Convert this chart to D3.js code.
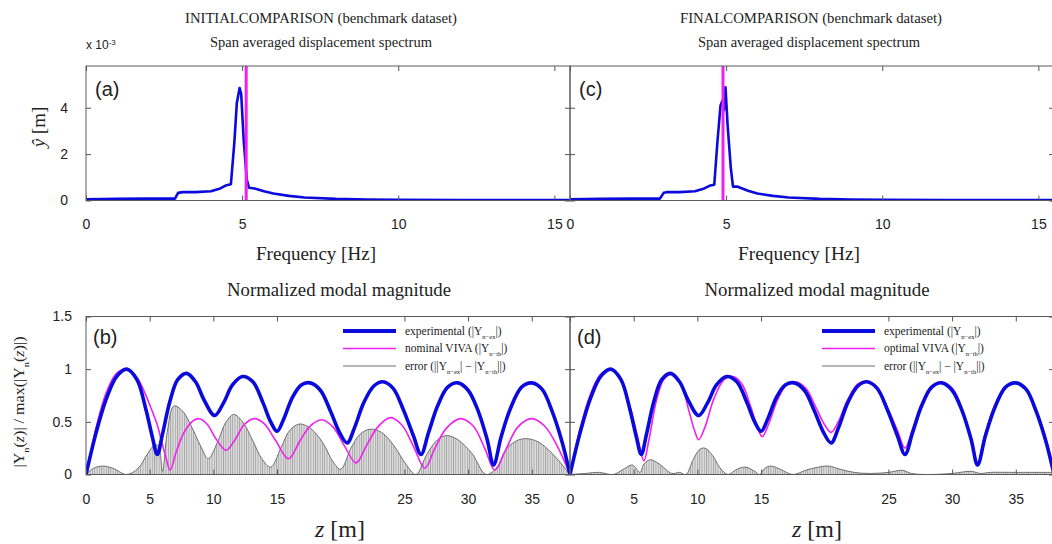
<!DOCTYPE html>
<html>
<head>
<meta charset="utf-8">
<script src="https://cdn.jsdelivr.net/npm/d3@7"></script>
<style>
    body { margin: 0; background: #fff; }
    text { fill: #222; }
    .serif { font-family: "Liberation Serif", "Times New Roman", Times, serif; }
    .sans { font-family: "Liberation Sans", Arial, sans-serif; }
</style>
</head>
<body>
<div id="chartArea"></div>
<script>
// Ticks
const freqTicks = [0, 5, 10, 15];
const specTicks = [0, 2, 4];
const zTicks = [0, 5, 10, 15, 25, 30, 35];
const magTicks = [0, 0.5, 1, 1.5];

// VIVA predicted frequency (vertical lines in (a) and (c)), Hz
const vivaFreq = [5.13, 4.9];

// Span averaged displacement spectrum [Hz, x10^-3 m]
const specInitial = [[0, 0.05], [1, 0.07], [2, 0.08], [2.85, 0.08], [2.95, 0.33], [3.1, 0.36], [3.5, 0.36], [4.0, 0.4], [4.3, 0.52], [4.5, 0.66], [4.64, 0.7], [4.75, 2.5], [4.83, 4.2], [4.92, 4.85], [4.97, 4.6], [5.05, 2.6], [5.15, 0.9], [5.22, 0.55], [5.4, 0.52], [5.7, 0.4], [6, 0.3], [6.5, 0.2], [7, 0.13], [8, 0.07], [9, 0.04], [10, 0.03], [12, 0.02], [15.5, 0.02]];
const specFinal = [[0, 0.05], [1, 0.07], [2, 0.08], [2.88, 0.08], [3.0, 0.33], [3.1, 0.36], [3.5, 0.36], [4.0, 0.4], [4.3, 0.52], [4.5, 0.65], [4.62, 0.68], [4.72, 2.5], [4.82, 4.1], [4.88, 4.3], [4.93, 3.9], [4.98, 4.88], [5.05, 3.2], [5.15, 1.4], [5.22, 0.6], [5.35, 0.6], [5.7, 0.42], [6, 0.3], [6.5, 0.2], [7, 0.13], [8, 0.07], [9, 0.04], [10, 0.03], [12, 0.02], [15.5, 0.02]];

// Normalized modal magnitude [z m, value]
const experimental = [[0, 0], [0.8, 0.4], [1.6, 0.72], [2.4, 0.93], [3.2, 1.0], [4.0, 0.9], [4.7, 0.62], [5.2, 0.36], [5.6, 0.19], [6.0, 0.38], [6.6, 0.7], [7.2, 0.9], [7.9, 0.96], [8.6, 0.88], [9.3, 0.7], [10.1, 0.56], [10.8, 0.68], [11.5, 0.85], [12.3, 0.93], [13.1, 0.88], [13.9, 0.68], [14.5, 0.5], [15.0, 0.41], [15.5, 0.52], [16.2, 0.73], [16.9, 0.85], [17.6, 0.87], [18.4, 0.8], [19.2, 0.6], [19.9, 0.4], [20.5, 0.3], [21.1, 0.45], [21.8, 0.68], [22.6, 0.84], [23.3, 0.88], [24.1, 0.82], [24.9, 0.62], [25.7, 0.37], [26.3, 0.19], [26.9, 0.4], [27.6, 0.65], [28.4, 0.83], [29.2, 0.87], [30.0, 0.8], [30.8, 0.6], [31.5, 0.33], [32.0, 0.09], [32.6, 0.36], [33.3, 0.62], [34.2, 0.83], [35.0, 0.87], [35.8, 0.81], [36.6, 0.6], [37.4, 0.3], [38, 0]];
const nominalViva = [[0, 0], [0.8, 0.45], [1.6, 0.78], [2.4, 0.96], [3.2, 1.0], [4.0, 0.92], [4.6, 0.78], [5.2, 0.6], [5.6, 0.47], [5.9, 0.33], [6.3, 0.15], [6.6, 0.04], [7.1, 0.22], [7.7, 0.4], [8.4, 0.51], [8.9, 0.53], [9.5, 0.48], [10.2, 0.34], [11.0, 0.23], [11.7, 0.33], [12.4, 0.47], [13.2, 0.53], [14.0, 0.48], [14.9, 0.32], [15.9, 0.15], [16.8, 0.32], [17.6, 0.46], [18.5, 0.52], [19.4, 0.45], [20.3, 0.27], [21.2, 0.11], [22.0, 0.27], [22.9, 0.45], [23.9, 0.54], [24.8, 0.47], [25.7, 0.27], [26.6, 0.06], [27.4, 0.25], [28.3, 0.44], [29.4, 0.53], [30.4, 0.46], [31.3, 0.25], [32.1, 0.04], [32.9, 0.22], [33.9, 0.45], [35.0, 0.53], [36.0, 0.46], [37.0, 0.27], [38, 0]];
const optimalViva = [[0, 0], [0.8, 0.44], [1.6, 0.76], [2.4, 0.95], [3.2, 1.0], [4.0, 0.91], [4.7, 0.65], [5.3, 0.36], [5.8, 0.13], [6.2, 0.33], [6.8, 0.71], [7.4, 0.91], [8.0, 0.95], [8.7, 0.87], [9.3, 0.62], [9.8, 0.41], [10.1, 0.33], [10.6, 0.45], [11.3, 0.72], [12.1, 0.9], [12.8, 0.93], [13.5, 0.86], [14.2, 0.64], [14.8, 0.42], [15.1, 0.36], [15.6, 0.48], [16.3, 0.71], [17.0, 0.85], [17.7, 0.88], [18.5, 0.82], [19.3, 0.64], [20.0, 0.47], [20.5, 0.4], [21.1, 0.51], [21.8, 0.71], [22.6, 0.86], [23.3, 0.88], [24.1, 0.83], [24.9, 0.64], [25.7, 0.42], [26.3, 0.25], [26.9, 0.43], [27.6, 0.67], [28.4, 0.84], [29.2, 0.87], [30.0, 0.82], [30.8, 0.62], [31.5, 0.35], [32.0, 0.11], [32.6, 0.39], [33.3, 0.64], [34.2, 0.84], [35.0, 0.87], [35.8, 0.82], [36.6, 0.62], [37.4, 0.32], [38, 0]];
const errorInitial = [[0, 0], [0.6, 0.06], [1.3, 0.08], [2.1, 0.06], [3.2, 0.0], [4.1, 0.06], [4.8, 0.19], [5.4, 0.28], [5.7, 0.27], [6.0, 0.03], [6.4, 0.42], [6.9, 0.65], [7.6, 0.6], [8.3, 0.45], [9.0, 0.27], [9.6, 0.15], [10.3, 0.3], [11.0, 0.5], [11.6, 0.57], [12.3, 0.5], [13.1, 0.32], [13.8, 0.15], [14.5, 0.07], [15.3, 0.25], [16.0, 0.42], [16.8, 0.48], [17.7, 0.43], [18.6, 0.3], [19.4, 0.12], [20.0, 0.05], [20.8, 0.25], [21.5, 0.38], [22.3, 0.43], [23.2, 0.4], [24.2, 0.27], [25.1, 0.1], [25.9, 0.0], [26.8, 0.2], [27.6, 0.33], [28.3, 0.37], [29.2, 0.33], [30.3, 0.2], [31.4, 0.0], [32.2, 0.06], [33.0, 0.24], [33.8, 0.32], [34.6, 0.34], [35.5, 0.31], [36.6, 0.2], [37.4, 0.09], [38, 0]];
const errorFinal = [[0, 0], [1.2, 0.01], [2.3, 0.02], [3.4, 0.0], [4.2, 0.05], [4.9, 0.09], [5.5, 0.02], [5.8, 0.1], [6.3, 0.14], [7.0, 0.1], [8.0, 0.01], [8.6, 0.02], [9.1, 0.0], [9.7, 0.15], [10.2, 0.24], [10.6, 0.25], [11.2, 0.18], [11.8, 0.06], [12.4, 0.0], [13.1, 0.05], [13.8, 0.07], [14.5, 0.03], [14.9, 0.0], [15.3, 0.06], [15.8, 0.08], [16.5, 0.05], [17.5, 0.0], [18.5, 0.04], [19.5, 0.07], [20.3, 0.08], [21.2, 0.05], [22.3, 0.02], [23.5, 0.01], [25.0, 0.02], [26.1, 0.04], [26.8, 0.01], [28.0, 0.0], [30.0, 0.01], [31.5, 0.03], [32.2, 0.01], [33.0, 0.02], [35.0, 0.02], [38, 0.02]];

const blue = "#0a0adc", magenta = "#f020f0", grey = "#6e6e6e";

const width = 1052, height = 544;
const cols = [{ x0: 86, x1: 570 }, { x0: 570, x1: 1054 }];
const topRow = { y0: 66, y1: 200.5 }, botRow = { y0: 316.5, y1: 474.5 };

const svg = d3.select("#chartArea")
    .append("svg")
    .attr("width", width)
    .attr("height", height);

svg.append("rect").attr("width", width).attr("height", height).attr("fill", "#fff");

const defs = svg.append("defs");
const hatch = defs.append("pattern")
    .attr("id", "hatch")
    .attr("patternUnits", "userSpaceOnUse")
    .attr("width", 2.3)
    .attr("height", 10);
hatch.append("rect").attr("width", 2.3).attr("height", 10).attr("fill", "#dedede");
hatch.append("line").attr("x1", 0.5).attr("x2", 0.5).attr("y1", 0).attr("y2", 10)
    .attr("stroke", "#888").attr("stroke-width", 0.7);

// Panel with frame, inside ticks and optional labels
const panel = (tag, col, row, xDomain, yDomain, xTicks, yTicks, showYLabels, xPad, yPad) => {
    const x = d3.scaleLinear().domain(xDomain).range([col.x0, col.x1]);
    const y = d3.scaleLinear().domain(yDomain).range([row.y1, row.y0]);
    defs.append("clipPath").attr("id", "clip-" + tag)
        .append("rect")
        .attr("x", col.x0).attr("y", row.y0)
        .attr("width", col.x1 - col.x0).attr("height", row.y1 - row.y0);
    const g = svg.append("g");
    const plot = g.append("g").attr("clip-path", `url(#clip-${tag})`);

    const style = (a) => {
        a.select(".domain").remove();
        a.selectAll(".tick line").attr("stroke", "#555");
        a.selectAll(".tick text").attr("class", "sans").style("font-size", "14px").attr("fill", "#222");
    };

    const axes = g.append("g");
    axes.append("g").attr("transform", `translate(0,${row.y1})`)
        .call(d3.axisBottom(x).tickValues(xTicks).tickSizeInner(-5).tickSizeOuter(0).tickPadding(xPad).tickFormat(d3.format("d")))
        .call(style);
    axes.append("g").attr("transform", `translate(0,${row.y0})`)
        .call(d3.axisTop(x).tickValues(xTicks).tickSizeInner(-5).tickSizeOuter(0).tickFormat(""))
        .call(style);
    axes.append("g").attr("transform", `translate(${col.x0},0)`)
        .call(d3.axisLeft(y).tickValues(yTicks).tickSizeInner(-5).tickSizeOuter(0).tickPadding(yPad)
            .tickFormat(showYLabels ? (d => d) : ""))
        .call(style);
    axes.append("g").attr("transform", `translate(${col.x1},0)`)
        .call(d3.axisRight(y).tickValues(yTicks).tickSizeInner(-5).tickSizeOuter(0).tickFormat(""))
        .call(style);
    axes.append("rect")
        .attr("x", col.x0).attr("y", row.y0)
        .attr("width", col.x1 - col.x0).attr("height", row.y1 - row.y0)
        .attr("fill", "none").attr("stroke", "#5a5a5a").attr("stroke-width", 1);
    return { x, y, g, plot, axes };
};

const tagLabel = (p, label, tx, ty) => p.g.append("text")
    .attr("class", "sans")
    .attr("x", tx).attr("y", ty)
    .style("font-size", "20px")
    .text(label);

// Spectrum panels
const specPanel = (tag, col, data, fv, showY, label) => {
    const p = panel(tag, col, topRow, [0, 15.5], [0, 5.8], freqTicks, specTicks, showY, 19, 18);
    const line = d3.line().x(d => p.x(d[0])).y(d => p.y(d[1]));
    p.plot.append("path").datum(data)
        .attr("d", line)
        .attr("fill", "none").attr("stroke", blue).attr("stroke-width", 2.6)
        .attr("stroke-linejoin", "round");
    p.plot.append("line")
        .attr("x1", p.x(fv)).attr("x2", p.x(fv))
        .attr("y1", topRow.y0).attr("y2", topRow.y1)
        .attr("stroke", magenta).attr("stroke-width", 3);
    tagLabel(p, label, col.x0 + 9, 96);
    p.axes.raise();
    return p;
};

// Mode shape panels
const modePanel = (tag, col, exp, viva, err, showY, label, vivaName, legX) => {
    const p = panel(tag, col, botRow, [0, 38], [0, 1.5], zTicks, magTicks, showY, 20, 14);
    const curve = d3.curveCatmullRom.alpha(0.5);
    const area = d3.area().x(d => p.x(d[0])).y0(p.y(0)).y1(d => p.y(d[1])).curve(curve);
    const line = d3.line().x(d => p.x(d[0])).y(d => p.y(d[1])).curve(curve);
    p.plot.append("path").datum(err).attr("d", area).attr("fill", "url(#hatch)");
    p.plot.append("path").datum(err).attr("d", line)
        .attr("fill", "none").attr("stroke", grey).attr("stroke-width", 1);
    p.plot.append("path").datum(viva).attr("d", line)
        .attr("fill", "none").attr("stroke", magenta).attr("stroke-width", 1.6);
    p.plot.append("path").datum(exp).attr("d", line)
        .attr("fill", "none").attr("stroke", blue).attr("stroke-width", 3.6);
    tagLabel(p, label, col.x0 + 7, 344);

    // Legend
    const rows = [
        { stroke: blue, w: 4, parts: [["experimental (|Y", ""], ["n−ex", "sub"], ["|)", ""]] },
        { stroke: magenta, w: 1.6, parts: [[vivaName + " VIVA (|Y", ""], ["n−th", "sub"], ["|)", ""]] },
        { stroke: grey, w: 1, parts: [["error (||Y", ""], ["n−ex", "sub"], ["| − |Y", ""], ["n−th", "sub"], ["||)", ""]] }
    ];
    const leg = p.g.append("g");
    rows.forEach((r, i) => {
        const ly = 331 + i * 17.5;
        leg.append("line")
            .attr("x1", legX).attr("x2", legX + 53)
            .attr("y1", ly).attr("y2", ly)
            .attr("stroke", r.stroke).attr("stroke-width", r.w);
        const t = leg.append("text").attr("class", "serif")
            .attr("x", legX + 62).attr("y", ly + 3.5)
            .style("font-size", "11.5px");
        r.parts.forEach(([s, k]) => {
            const ts = t.append("tspan").text(s);
            if (k === "sub") ts.attr("baseline-shift", "sub").style("font-size", "6.5px");
        });
    });
    p.axes.raise();
    return p;
};

specPanel("a", cols[0], specInitial, vivaFreq[0], true, "(a)");
specPanel("c", cols[1], specFinal, vivaFreq[1], false, "(c)");
modePanel("b", cols[0], experimental, nominalViva, errorInitial, true, "(b)", "nominal", 343);
modePanel("d", cols[1], experimental, optimalViva, errorFinal, false, "(d)", "optimal", 822);

// Titles
const serifText = (tx, ty, size, str, len) => {
    const t = svg.append("text").attr("class", "serif")
        .attr("x", tx).attr("y", ty)
        .attr("text-anchor", "middle")
        .style("font-size", size + "px")
        .text(str);
    if (len) t.attr("textLength", len).attr("lengthAdjust", "spacingAndGlyphs");
    return t;
};

serifText(321, 23, 15.5, "INITIALCOMPARISON (benchmark dataset)", 272);
serifText(321, 47, 14, "Span averaged displacement spectrum", 222);
serifText(811, 23, 15.5, "FINALCOMPARISON (benchmark dataset)", 262);
serifText(809, 47, 14, "Span averaged displacement spectrum", 222);

serifText(316, 260, 18, "Frequency [Hz]", 120);
serifText(799, 260, 18, "Frequency [Hz]", 122);
serifText(339, 296, 18, "Normalized modal magnitude", 224);
serifText(817, 296, 18, "Normalized modal magnitude", 225);

// z [m]
[340, 817].forEach(cx => {
    const t = svg.append("text").attr("class", "serif")
        .attr("x", cx).attr("y", 537)
        .attr("text-anchor", "middle")
        .style("font-size", "24px");
    t.append("tspan").style("font-style", "italic").text("z");
    t.append("tspan").text(" [m]");
});

// x 10^-3
const sci = svg.append("text").attr("class", "sans")
    .attr("x", 86).attr("y", 49)
    .style("font-size", "12px");
sci.append("tspan").text("x 10");
sci.append("tspan").attr("baseline-shift", "super").style("font-size", "8px").text("-3");

// Y labels
const yTop = svg.append("text").attr("class", "serif")
    .attr("transform", "translate(45,127) rotate(-90)")
    .attr("text-anchor", "middle")
    .style("font-size", "19px");
yTop.append("tspan").style("font-style", "italic").text("ŷ");
yTop.append("tspan").text(" [m]");

const yBot = svg.append("text").attr("class", "serif")
    .attr("transform", "translate(24,402) rotate(-90)")
    .attr("text-anchor", "middle")
    .attr("textLength", 131).attr("lengthAdjust", "spacingAndGlyphs")
    .style("font-size", "14px");
[["|Y", ""], ["n", "sub"], ["(", ""], ["z", "it"], [")| / max(|Y", ""], ["n", "sub"], ["(", ""], ["z", "it"], [")|)", ""]]
    .forEach(([s, k]) => {
        const ts = yBot.append("tspan").text(s);
        if (k === "sub") ts.attr("baseline-shift", "sub").style("font-size", "9px");
        if (k === "it") ts.style("font-style", "italic");
    });
</script>
</body>
</html>
